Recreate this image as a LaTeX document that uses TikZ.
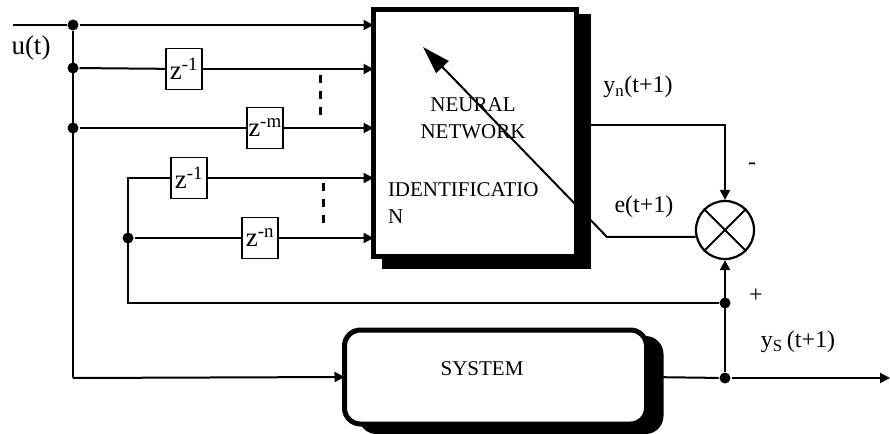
\documentclass[tikz,border=0pt]{standalone}
\usepackage{fontspec}
\setmainfont{Liberation Serif}
\usetikzlibrary{arrows.meta,positioning,calc}

\begin{document}
\begin{tikzpicture}[
  x=1pt, y=-1pt,
  line width=2pt,
  font=\fontsize{21}{27}\selectfont,
  delay/.style={
    draw,
    line width=1.8pt,
    minimum width=36pt,
    minimum height=41pt,
    inner sep=0pt,
    font=\fontsize{27}{29}\selectfont
  },
  arr/.style={-{Triangle[length=10pt, width=10pt]}},
  bigarr/.style={-{Triangle[length=28pt, width=17pt]}},
  dot/.style={circle, fill, inner sep=0pt, minimum size=11pt},
  lbl/.style={font=\fontsize{24}{26}\selectfont, inner sep=0pt},
  dots/.style={line width=3pt, dash pattern=on 8pt off 8pt}
]
  \useasboundingbox (0,0) rectangle (890,433);

  % Neural network block with its heavy shadow
  \node[minimum width=201pt, minimum height=245pt, inner sep=0pt] (nn) at (475,133) {};
  \fill ($(nn.north west)+(8,5)$) rectangle ($(nn.south east)+(14,12)$);
  \draw[line width=5pt, fill=white] (nn.north west) rectangle (nn.south east);
  \node[align=center, inner sep=0pt] (nntxt) at (473,118) {NEURAL\\NETWORK};
  \node[align=left, anchor=west, inner sep=0pt] (nnid) at (387,203) {IDENTIFICATIO\\N};

  % System block, rounded, shadow to the right
  \node[minimum width=300pt, minimum height=92pt, inner sep=0pt] (sys) at (495.5,377) {};
  \fill[rounded corners=18pt] ($(sys.north west)+(14,6)$) rectangle ($(sys.south east)+(17,10)$);
  \draw[line width=5pt, fill=white, rounded corners=16pt] (sys.north west) rectangle (sys.south east);
  \node[inner sep=0pt] (systxt) at (482,369) {SYSTEM};

  % Delay elements
  \node[delay] (za) at (184,69) {z\textsuperscript{-1}};
  \node[delay] (zm) at (265,128) {z\textsuperscript{-m}};
  \node[delay] (zb) at (189,178) {z\textsuperscript{-1}};
  \node[delay] (zn) at (260,238) {z\textsuperscript{-n}};

  % Comparator
  \node[circle, draw, line width=2.2pt, minimum size=58pt, inner sep=0pt] (sum) at (725,230) {};
  \draw (sum.45) -- (sum.225);
  \draw (sum.135) -- (sum.315);

  % Junctions
  \coordinate (uin) at (13,25);
  \node[dot] (d0) at (73,25) {};
  \node[dot] (d1) at (73,68) {};
  \node[dot] (d2) at (73,128) {};
  \coordinate (dbot) at (73,378);
  \coordinate (fbtop) at (128,178);
  \node[dot] (dfb) at (128,238) {};
  \coordinate (fbbot) at (128,303);
  \node[dot] (jfb) at (725,303) {};
  \node[dot] (jout) at (725,378) {};
  \coordinate (yout) at (890,378);
  \coordinate (ebend) at (607,237);
  \coordinate (adapt) at (423,47);

  % Input taps
  \draw (uin) -- (d0);
  \draw[arr] (d0) -- (nn.west |- d0);
  \draw (d0) -- (dbot);
  \draw (d1) -- (za);
  \draw[arr] (za) -- (nn.west |- za);
  \draw (d2) -- (zm);
  \draw[arr] (zm) -- (nn.west |- zm);
  \draw[arr] (dbot) -- (sys.west);

  % Output feedback taps
  \draw (jfb) -- (fbbot) -- (fbtop) -- (zb);
  \draw[arr] (zb) -- (nn.west |- zb);
  \draw (dfb) -- (zn);
  \draw[arr] (zn) -- (nn.west |- zn);

  \draw[dots] (320,75) -- (320,122);
  \draw[dots] (323,183) -- (323,230);

  % Error path
  \draw[arr] (nn.east |- 0,125) -| (sum.north);
  \draw (sys.east) -- (jout);
  \draw[arr] (jout) -- (yout);
  \draw[arr] (jout) -- (sum.south);
  \draw[bigarr] (sum.193) -- (ebend) -- (adapt);

  % Labels
  \node[lbl, font=\fontsize{27}{29}\selectfont] (ulbl) at (31,48) {u(t)};
  \node[lbl] (ynlbl) at (638,87) {y\textsubscript{n}(t+1)};
  \node[lbl] (elbl) at (644,207) {e(t+1)};
  \node[lbl] (minus) at (752,166) {-};
  \node[lbl] (plus) at (756,296) {+};
  \node[lbl] (yslbl) at (798,342) {y\textsubscript{S}\,(t+1)};
\end{tikzpicture}
\end{document}
